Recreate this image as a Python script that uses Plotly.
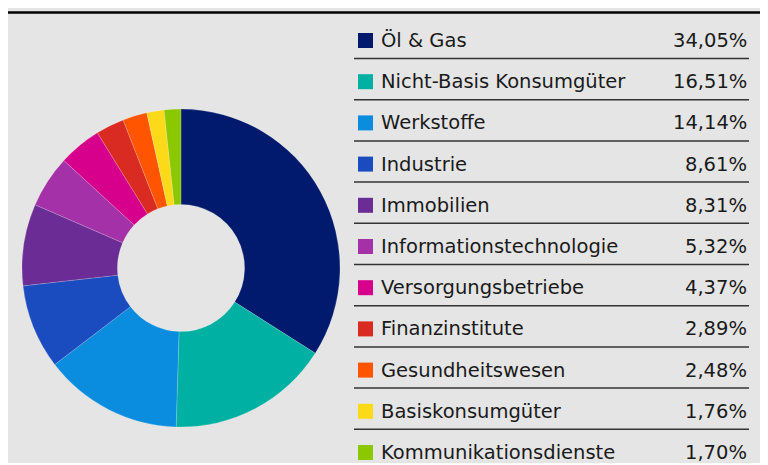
import plotly.graph_objects as go

# the page body adds an 8px margin, so the figure occupies 760x457 of the window
W, H = 760, 457
OFF = 8

sectors = ["Öl & Gas", "Nicht-Basis Konsumgüter", "Werkstoffe", "Industrie", "Immobilien",
           "Informationstechnologie", "Versorgungsbetriebe", "Finanzinstitute",
           "Gesundheitswesen", "Basiskonsumgüter", "Kommunikationsdienste"]
weights = [34.05, 16.51, 14.14, 8.61, 8.31, 5.32, 4.37, 2.89, 2.48, 1.76, 1.70]
colors = ["#021a6e", "#00b0a2", "#0a8cdf", "#1a4cbf", "#6c2c95", "#a531a8",
          "#d6008c", "#da2b22", "#ff5500", "#fcd919", "#8cc800"]

FONT = "DejaVu Sans"
FSIZE = 19.5

def px(x):
    return (x - OFF) / W

def py(y):
    return 1 - (y - OFF) / H

fig = go.Figure()
fig.add_trace(go.Pie(
    labels=sectors, values=weights,
    marker=dict(colors=colors, line=dict(width=0.5, color="rgba(255,255,255,0.35)")),
    hole=0.40, sort=False, direction="clockwise", rotation=0,
    textinfo="none", hoverinfo="label+percent", showlegend=False,
    domain=dict(x=[px(22), px(340)], y=[py(427), py(109)]),
))

shapes = [
    dict(type="rect", xref="paper", yref="paper", x0=px(8), x1=px(762), y0=py(463), y1=py(0),
         fillcolor="#e5e5e5", line=dict(width=0), layer="below"),
    dict(type="line", xref="paper", yref="paper", x0=px(8), x1=px(762), y0=py(12.5), y1=py(12.5),
         line=dict(color="#000000", width=2.5)),
]
annotations = []
row0, step = 40.5, 41.2
for i, (name, val, col) in enumerate(zip(sectors, weights, colors)):
    yc = row0 + step * i
    shapes.append(dict(type="rect", xref="paper", yref="paper", x0=px(358), x1=px(373),
                       y0=py(yc + 7.5), y1=py(yc - 7.5), fillcolor=col, line=dict(width=0)))
    annotations.append(dict(xref="paper", yref="paper", x=px(379), y=py(yc), xanchor="left",
                            yanchor="middle", text=name, showarrow=False,
                            font=dict(family=FONT, size=FSIZE, color="#1a1a1a")))
    annotations.append(dict(xref="paper", yref="paper", x=px(749), y=py(yc), xanchor="right",
                            yanchor="middle", text=f"{val:.2f}".replace(".", ",") + "%", showarrow=False,
                            font=dict(family=FONT, size=FSIZE, color="#1a1a1a")))
    if i < len(sectors) - 1:
        ly = yc + 18
        shapes.append(dict(type="line", xref="paper", yref="paper", x0=px(354), x1=px(749),
                           y0=py(ly), y1=py(ly), line=dict(color="#333333", width=1.5)))

fig.update_layout(
    width=W, height=H, margin=dict(l=0, r=0, t=0, b=0),
    paper_bgcolor="#ffffff", plot_bgcolor="#ffffff",
    shapes=shapes, annotations=annotations,
)
fig.write_html("out.html")
